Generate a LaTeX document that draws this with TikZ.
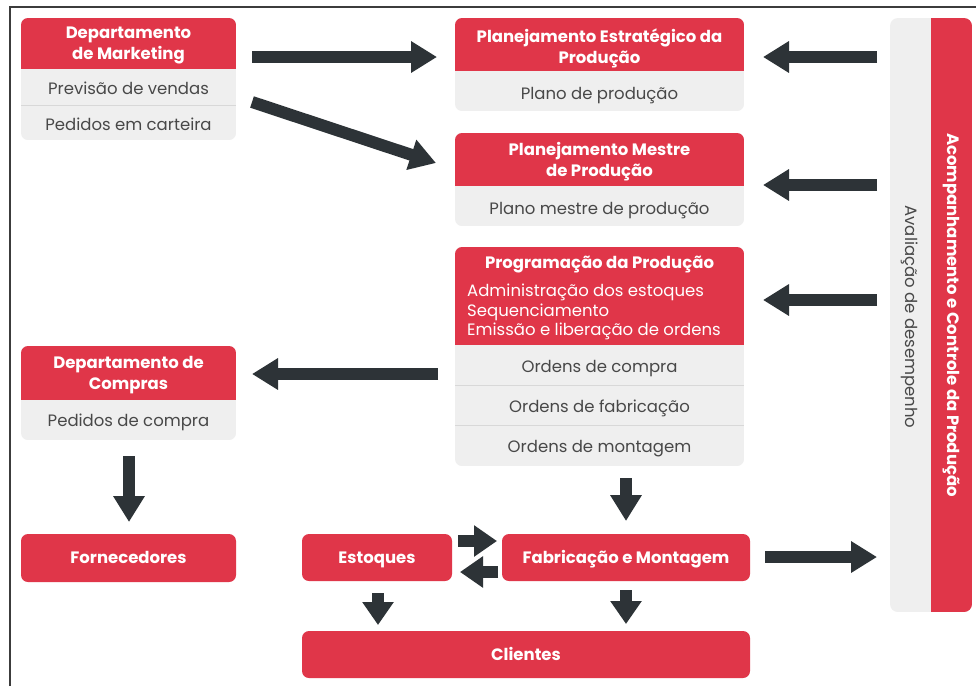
\documentclass[tikz,border=0pt]{standalone}
\usepackage{fontspec}
\setmainfont{Poppins}
\usetikzlibrary{arrows.meta}
\definecolor{cardred}{RGB}{224,54,73}
\definecolor{cardgrey}{RGB}{239,239,239}
\definecolor{rowline}{RGB}{216,216,216}
\definecolor{arrowdark}{RGB}{45,51,55}
\definecolor{rowtext}{RGB}{72,72,72}
\definecolor{framec}{RGB}{60,60,60}

\begin{document}
\begin{tikzpicture}[x=1pt,y=-1pt,
  headtxt/.style={text=white,font=\bfseries\fontsize{16.5}{21}\selectfont,align=center,inner sep=0pt,yshift=-2pt},
  rowtxt/.style={text=rowtext,font=\fontsize{16.5}{19}\selectfont,inner sep=0pt,text height=0.7em,text depth=0pt,yshift=-3.5pt},
  redbox/.style={fill=cardred,rounded corners=7pt,inner sep=0pt},
  boxlabel/.style={text=white,font=\bfseries\fontsize{16.5}{21}\selectfont,inner sep=0pt,text height=0.7em,text depth=0pt,yshift=-2pt},
  flow/.style={draw=arrowdark,line width=12pt,-{Triangle[width=30pt,length=26pt]}},
  shortflow/.style={draw=arrowdark,line width=12pt,-{Triangle[width=30pt,length=23pt]}},
  divider/.style={draw=rowline,line width=0.8pt}]

\useasboundingbox (0,0) rectangle (976,686);
\fill[white] (0,0) rectangle (976,686);
\draw[framec,line width=1.6pt] (10,686) -- (10,7) -- (976,7);

% Departamento de Marketing
\begin{scope}
  \clip[rounded corners=7pt] (21,18) rectangle (236,140);
  \fill[cardgrey] (21,18) rectangle (236,140);
  \fill[cardred] (21,18) rectangle (236,69);
  \draw[divider] (21,105) -- (236,105);
\end{scope}
\node[headtxt] (mkt) at (128.5,43) {Departamento\\de Marketing};
\node[rowtxt] (mktA) at (128.5,87) {Previsão de vendas};
\node[rowtxt] (mktB) at (128.5,123) {Pedidos em carteira};

% Planejamento Estrategico
\begin{scope}
  \clip[rounded corners=7pt] (455,18) rectangle (744,111);
  \fill[cardgrey] (455,18) rectangle (744,111);
  \fill[cardred] (455,18) rectangle (744,71);
\end{scope}
\node[headtxt] (pep) at (599.5,46) {Planejamento Estratégico da\\Produção};
\node[rowtxt] (pepA) at (599.5,92) {Plano de produção};

% Planejamento Mestre
\begin{scope}
  \clip[rounded corners=7pt] (455,133) rectangle (744,226);
  \fill[cardgrey] (455,133) rectangle (744,226);
  \fill[cardred] (455,133) rectangle (744,186);
\end{scope}
\node[headtxt] (pmp) at (599.5,160) {Planejamento Mestre\\de Produção};
\node[rowtxt] (pmpA) at (599.5,207) {Plano mestre de produção};

% Programacao da Producao
\begin{scope}
  \clip[rounded corners=7pt] (455,247) rectangle (744,466);
  \fill[cardgrey] (455,247) rectangle (744,466);
  \fill[cardred] (455,247) rectangle (744,345);
  \draw[divider] (455,385) -- (744,385);
  \draw[divider] (455,425) -- (744,425);
\end{scope}
\node[headtxt] (prog) at (599.5,263) {Programação da Produção};
\node[text=white,font=\fontsize{16.5}{19.5}\selectfont,align=left,inner sep=0pt,anchor=west] (progL) at (467,312)
  {Administração dos estoques\\Sequenciamento\\Emissão e liberação de ordens};
\node[rowtxt] (progA) at (599.5,365) {Ordens de compra};
\node[rowtxt] (progB) at (599.5,405) {Ordens de fabricação};
\node[rowtxt] (progC) at (599.5,445) {Ordens de montagem};

% Departamento de Compras
\begin{scope}
  \clip[rounded corners=7pt] (21,346) rectangle (236,440);
  \fill[cardgrey] (21,346) rectangle (236,440);
  \fill[cardred] (21,346) rectangle (236,400);
\end{scope}
\node[headtxt] (comp) at (128.5,373) {Departamento de\\Compras};
\node[rowtxt] (compA) at (128.5,419) {Pedidos de compra};

% Single red boxes and their labels
\node[redbox,minimum width=215pt,minimum height=48pt] (forn) at (128.5,558) {};
\node[boxlabel] (fornT) at (forn) {Fornecedores};
\node[redbox,minimum width=150pt,minimum height=47pt] (est) at (377,557.5) {};
\node[boxlabel] (estT) at (est) {Estoques};
\node[redbox,minimum width=248pt,minimum height=47pt] (fab) at (626,557.5) {};
\node[boxlabel] (fabT) at (fab) {Fabricação e Montagem};
\node[redbox,minimum width=448pt,minimum height=47pt] (cli) at (526,654.5) {};
\node[boxlabel] (cliT) at (cli) {Clientes};

% Acompanhamento e Controle panel
\begin{scope}
  \clip[rounded corners=8pt] (890,18) rectangle (972,612);
  \fill[cardgrey] (890,18) rectangle (972,612);
  \fill[cardred] (931,18) rectangle (972,612);
\end{scope}
\node[rotate=-90,text=white,font=\bfseries\fontsize{16.5}{18}\selectfont,inner sep=0pt] (acc) at (951.5,315) {Acompanhamento e Controle da Produção};
\node[rotate=-90,text=rowtext,font=\fontsize{16.5}{19}\selectfont,inner sep=0pt] (aval) at (910,317) {Avaliação de desempenho};

% Arrow end points
\coordinate (m1) at (252,57);   \coordinate (p1) at (437,57);
\coordinate (m2) at (252,102);  \coordinate (p2) at (436,163);
\coordinate (c1) at (877,57);   \coordinate (q1) at (763,57);
\coordinate (c2) at (877,185);  \coordinate (q2) at (763,185);
\coordinate (c3) at (877,300);  \coordinate (q3) at (763,300);
\coordinate (g1) at (438,374);  \coordinate (h1) at (252,374);
\coordinate (g2) at (129,456);  \coordinate (h2) at (129,522);
\coordinate (g3) at (626,478);  \coordinate (h3) at (626,521);
\coordinate (e1) at (458,541);  \coordinate (f1) at (497,541);
\coordinate (f2) at (498,572);  \coordinate (e2) at (460,572);
\coordinate (f3) at (765,557);  \coordinate (c4) at (877,557);
\coordinate (e3) at (378,593);  \coordinate (k1) at (378,625);
\coordinate (f4) at (626,590);  \coordinate (k2) at (626,624);

% Flow arrows
\draw[flow] (m1) -- (p1);
\draw[flow] (m2) -- (p2);
\draw[flow] (c1) -- (q1);
\draw[flow] (c2) -- (q2);
\draw[flow] (c3) -- (q3);
\draw[flow] (g1) -- (h1);
\draw[flow] (g2) -- (h2);
\draw[flow] (g3) -- (h3);
\draw[shortflow] (e1) -- (f1);
\draw[shortflow] (f2) -- (e2);
\draw[flow] (f3) -- (c4);
\draw[shortflow] (e3) -- (k1);
\draw[shortflow] (f4) -- (k2);
\end{tikzpicture}
\end{document}
